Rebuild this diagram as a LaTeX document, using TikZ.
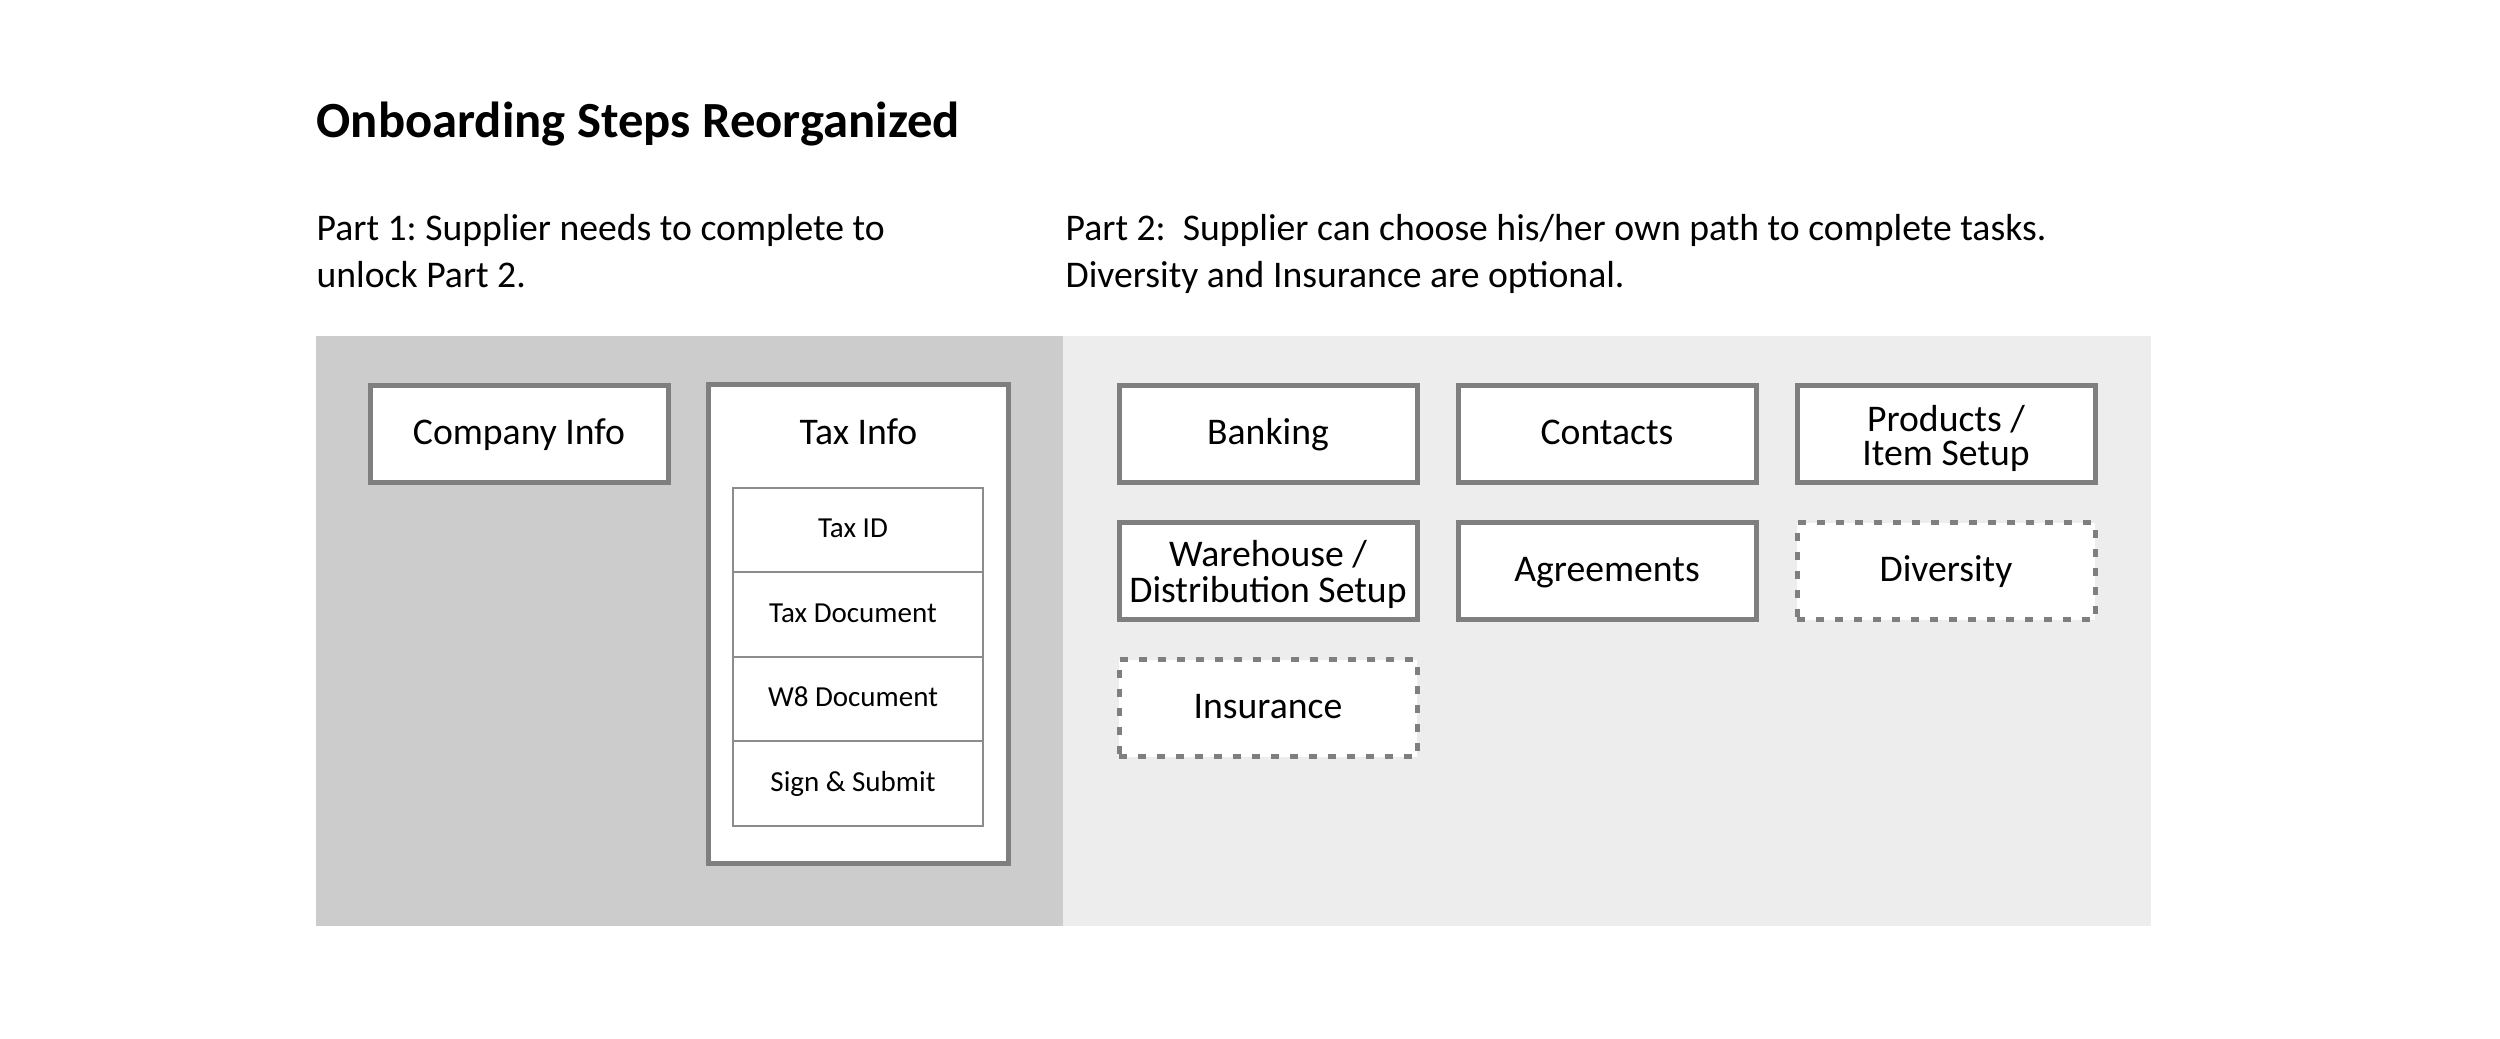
\documentclass[tikz,border=0pt]{standalone}
\usepackage{fontspec}
\setmainfont{Carlito}
\frenchspacing
\definecolor{boxgray}{HTML}{7F7F7F}
\definecolor{rowgray}{HTML}{8C8C8C}
\definecolor{panelL}{HTML}{CCCCCC}
\definecolor{panelR}{HTML}{EDEDED}
\newcommand\twolines[2]{\begin{tabular}[b]{@{}c@{}}#1\\#2\end{tabular}}
\begin{document}
\begin{tikzpicture}[x=0.3pt,y=-0.3pt,
  stepbox/.style={draw=boxgray, line width=1.5pt, fill=white, minimum width=89.4pt, minimum height=29.1pt, inner sep=0pt, text height=9pt, text depth=2.6pt, font=\fontsize{11.3}{9.9}\selectfont},
  twobox/.style={text height=21.5pt, text depth=2.6pt},
  optbox/.style={stepbox, dash pattern=on 2.4pt off 3.3pt},
  rowbox/.style={draw=rowgray, line width=0.6pt, fill=white, minimum width=75pt, minimum height=25.35pt, inner sep=0pt, text height=6.5pt, text depth=2pt, font=\fontsize{8.7}{10}\selectfont, execute at end node={\hspace{3pt}}},
  bodytext/.style={anchor=base west, inner sep=0pt, font=\fontsize{11.3}{13}\selectfont},
  titletext/.style={anchor=base west, inner sep=0pt, font=\fontsize{15.2}{18}\selectfont\bfseries}
]
\useasboundingbox[fill=white] (0,0) rectangle (2500,1039);

% panels
\fill[panelL] (316,336) rectangle (1063,926);
\fill[panelR] (1063,336) rectangle (2151,926);

% texts
\node[titletext] (title) at (316,137) {Onboarding Steps Reorganized};
\node[bodytext] (p1a) at (316,240) {Part 1: Supplier needs to complete to};
\node[bodytext] (p1b) at (316,287) {unlock Part 2.};
\node[bodytext] (p2a) at (1065,240) {Part 2:\ \ Supplier can choose his/her own path to complete tasks.};
\node[bodytext] (p2b) at (1065,287) {Diversity and Insurance are optional.};

% part 1
\node[stepbox] (company) at (519,434) {Company Info};
\node[stepbox, minimum width=90pt, minimum height=143.7pt] (tax) at (858.5,624) {};
\node[inner sep=0pt, text height=9pt, text depth=2.6pt, font=\fontsize{11.3}{13}\selectfont] (taxlabel) at (858.5,434) {Tax Info};
\node[rowbox] (taxid) at (858,530) {Tax ID};
\node[rowbox] (taxdoc) at (858,614.5) {Tax Document};
\node[rowbox] (w8) at (858,699) {W8 Document};
\node[rowbox] (sign) at (858,783.5) {Sign \& Submit};

% part 2
\node[stepbox] (banking) at (1268,434) {Banking};
\node[stepbox] (contacts) at (1607,434) {Contacts};
\node[stepbox, twobox] (products) at (1946,434) {\twolines{Products /}{Item Setup}};
\node[stepbox, twobox] (warehouse) at (1268,571) {\twolines{Warehouse /}{Distribution Setup}};
\node[stepbox] (agreements) at (1607,571) {Agreements};
\node[optbox] (diversity) at (1946,571) {Diversity};
\node[optbox] (insurance) at (1268,708) {Insurance};
\end{tikzpicture}
\end{document}
